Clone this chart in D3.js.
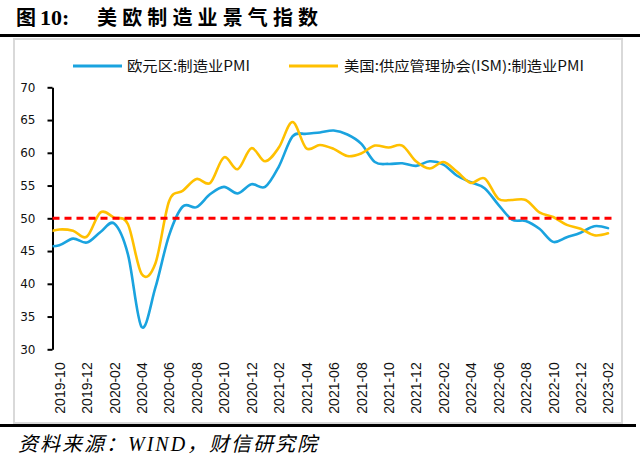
<!DOCTYPE html>
<html><head><meta charset="utf-8">
<script src="https://cdn.jsdelivr.net/npm/d3@7/dist/d3.min.js"></script>
<style>body{margin:0;background:#fff;} svg{display:block;}</style>
</head><body><svg id="c" width="640" height="460"></svg>
<script>
// ---- data (monthly, 2019-09 .. 2023-02) ----
const months = ["2019-09","2019-10","2019-11","2019-12","2020-01","2020-02","2020-03","2020-04","2020-05","2020-06","2020-07","2020-08","2020-09","2020-10","2020-11","2020-12","2021-01","2021-02","2021-03","2021-04","2021-05","2021-06","2021-07","2021-08","2021-09","2021-10","2021-11","2021-12","2022-01","2022-02","2022-03","2022-04","2022-05","2022-06","2022-07","2022-08","2022-09","2022-10","2022-11","2022-12","2023-01","2023-02"];
const euroPMI = [45.7,45.9,46.9,46.3,47.9,49.2,44.5,33.4,39.4,47.4,51.8,51.7,53.7,54.8,53.8,55.2,54.8,57.9,62.5,62.9,63.1,63.4,62.8,61.4,58.6,58.3,58.4,58.0,58.7,58.2,56.5,55.5,54.6,52.1,49.8,49.6,48.4,46.4,47.1,47.8,48.8,48.5];
const ismPMI = [47.8,48.3,48.1,47.2,50.9,50.1,49.1,41.5,43.1,52.6,54.2,56.0,55.4,59.3,57.5,60.7,58.7,60.8,64.7,60.7,61.2,60.6,59.5,59.9,61.1,60.8,61.1,58.7,57.6,58.6,57.1,55.4,56.1,53.0,52.8,52.8,50.9,50.2,49.0,48.4,47.4,47.7];
const tickLabels = ["2019-10","2019-12","2020-02","2020-04","2020-06","2020-08","2020-10","2020-12","2021-02","2021-04","2021-06","2021-08","2021-10","2021-12","2022-02","2022-04","2022-06","2022-08","2022-10","2022-12","2023-02"];
const yTicks = [30,35,40,45,50,55,60,65,70];
const threshold = 50;
const seriesNames = ["欧元区:制造业PMI","美国:供应管理协会(ISM):制造业PMI"];
const seriesColors = ["#1AA3DF","#FFC000"];

const svg = d3.select("#c");
const x = d3.scaleLinear().domain([0.5, months.length - 1]).range([52.5, 608]);
const y = d3.scaleLinear().domain([30, 70]).range([349.3, 87.3]);

// title
const title = svg.append("g").style("font-weight", "bold").style("font-size", "20px");
title.append("text").attr("x", 16).attr("y", 25).style("font-family", "'Noto Sans CJK SC', sans-serif").text("图");
title.append("text").attr("x", 40).attr("y", 25).style("font-family", "'Liberation Serif', serif").style("font-size", "22px").text("10:");
title.append("text").attr("x", 97).attr("y", 25).attr("textLength", 221).attr("lengthAdjust", "spacing")
  .style("font-family", "'Noto Sans CJK SC', sans-serif").text("美欧制造业景气指数");
svg.append("line").attr("x1", 0).attr("x2", 640).attr("y1", 35.5).attr("y2", 35.5)
  .attr("stroke", "#000").attr("stroke-width", 3);
// frame
svg.append("rect").attr("x", 14).attr("y", 39).attr("width", 608).attr("height", 384)
  .attr("fill", "#fff").attr("stroke", "#d9d9d9").attr("stroke-width", 2);
svg.append("line").attr("x1", 0).attr("x2", 636).attr("y1", 425.5).attr("y2", 425.5)
  .attr("stroke", "#000").attr("stroke-width", 3);
// footer
svg.append("text").attr("x", 18).attr("y", 451)
  .style("letter-spacing", "2px")
  .style("font-family", "'Liberation Serif', 'Noto Sans CJK SC', serif").style("font-style", "italic").style("font-size", "20px")
  .text("资料来源：WIND，财信研究院");

// legend
const legX = [[73, 122, 127, 123], [289, 338, 344, 240]];
seriesNames.forEach((n, i) => {
  const g = svg.append("g");
  g.append("line").attr("x1", legX[i][0]).attr("x2", legX[i][1]).attr("y1", 66).attr("y2", 66)
    .attr("stroke", seriesColors[i]).attr("stroke-width", 3);
  g.append("text").attr("x", legX[i][2]).attr("y", 66).attr("dy", "0.35em")
    .attr("textLength", legX[i][3]).attr("lengthAdjust", "spacingAndGlyphs")
    .style("font-family", "'Noto Sans CJK SC', sans-serif").style("font-size", "14px").attr("fill", "#111")
    .text(n);
});

// y axis
const yAxis = svg.append("g").attr("transform", "translate(52.5,0)")
  .call(d3.axisLeft(y).tickValues(yTicks).tickSize(5).tickSizeOuter(0).tickPadding(12));
yAxis.select(".domain").attr("stroke", "#000").attr("stroke-width", 2);
yAxis.selectAll(".tick line").attr("stroke", "#000").attr("stroke-width", 2);
yAxis.selectAll(".tick text").style("font-family", "'DejaVu Sans', Verdana, sans-serif").style("font-size", "12px").attr("fill", "#111");

// x axis labels
const xAxis = svg.append("g").attr("transform", "translate(0,349.3)")
  .call(d3.axisBottom(x).tickValues(tickLabels.map(t => months.indexOf(t))).tickSize(0)
    .tickFormat(i => months[i]));
xAxis.select(".domain").remove();
xAxis.selectAll(".tick text").attr("transform", "rotate(-90)").attr("x", -13).attr("y", 0).attr("dy", "0.35em")
  .style("text-anchor", "end").style("font-family", "'Liberation Sans', Arial, sans-serif").style("font-size", "14px").attr("fill", "#111");

// lines
svg.append("clipPath").attr("id", "clip").append("rect").attr("x", 52.5).attr("y", 40).attr("width", 580).attr("height", 380);
const line = d3.line().x((d, i) => x(i)).y(d => y(d)).curve(d3.curveCardinal.tension(0));
[euroPMI, ismPMI].forEach((s, i) => {
  svg.append("path").datum(s).attr("d", line).attr("clip-path", "url(#clip)")
    .attr("fill", "none").attr("stroke", seriesColors[i]).attr("stroke-width", 2.6)
    .attr("stroke-linejoin", "round").attr("stroke-linecap", "round");
});

// threshold line
svg.append("line").attr("x1", x(0.5)).attr("x2", x(months.length - 1) + 6)
  .attr("y1", y(threshold)).attr("y2", y(threshold))
  .attr("stroke", "#FF0000").attr("stroke-width", 3).attr("stroke-dasharray", "7,5");
</script>
</body></html>
